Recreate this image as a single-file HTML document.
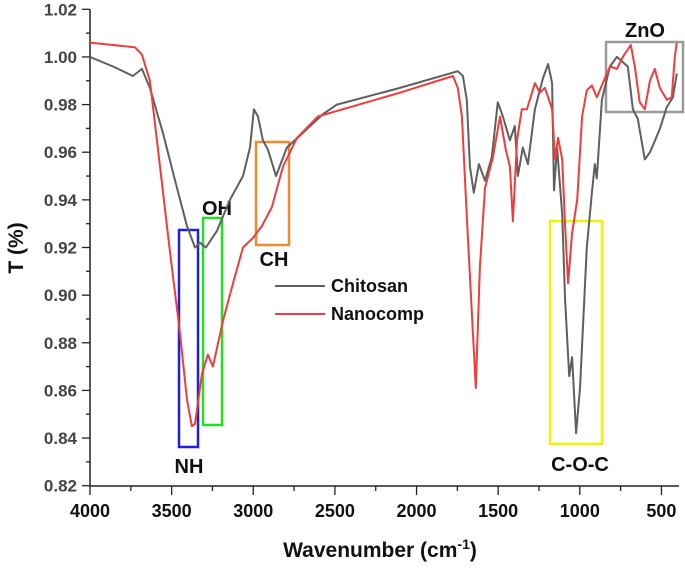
<!DOCTYPE html>
<html><head><meta charset="utf-8"><style>
body{margin:0;background:#fff;}
svg text{font-family:"Liberation Sans",Arial,sans-serif;}
</style></head><body>
<svg id="chart" width="685" height="570" xmlns="http://www.w3.org/2000/svg">
<g id="axes"></g>
<g id="boxes"></g>
<g id="series"></g>
<g id="legend"></g>
</svg>
<script>
const xTicks=[4000,3500,3000,2500,2000,1500,1000,500];
const yTicks=[0.82,0.84,0.86,0.88,0.90,0.92,0.94,0.96,0.98,1.00,1.02];
const chitosanW=[4000,3859,3737,3682,3633,3553,3467,3406,3357,3327,3290,3222,3143,3063,3020,2996,2971,2941,2910,2861,2794,2714,2573,2488,2102,1747,1716,1692,1673,1649,1618,1581,1539,1502,1471,1428,1398,1379,1349,1318,1275,1226,1194,1170,1158,1139,1108,1090,1065,1047,1023,999,957,926,908,896,865,816,773,706,675,645,602,570,539,509,467,430,406];
const chitosanT=[1.000,0.996,0.992,0.995,0.987,0.968,0.945,0.929,0.920,0.922,0.920,0.927,0.940,0.950,0.962,0.978,0.975,0.965,0.961,0.950,0.962,0.967,0.976,0.980,0.987,0.994,0.992,0.982,0.954,0.943,0.955,0.948,0.958,0.981,0.975,0.965,0.971,0.950,0.962,0.955,0.978,0.991,0.997,0.989,0.944,0.962,0.934,0.898,0.866,0.874,0.842,0.861,0.920,0.943,0.955,0.949,0.982,0.996,1.000,0.996,0.978,0.974,0.957,0.960,0.965,0.970,0.979,0.983,0.993];
const nanoW=[4000,3859,3724,3682,3633,3571,3510,3449,3406,3376,3357,3314,3278,3247,3186,3124,3063,3002,2947,2886,2818,2733,2604,2102,1777,1747,1722,1692,1637,1612,1581,1532,1489,1453,1428,1410,1385,1355,1324,1275,1245,1214,1170,1152,1133,1108,1090,1072,1047,1016,986,957,926,896,859,816,773,737,688,663,633,602,571,541,510,467,437,418,406];
const nanoT=[1.006,1.005,1.004,1.001,0.990,0.954,0.918,0.884,0.856,0.845,0.846,0.867,0.875,0.870,0.889,0.905,0.920,0.924,0.929,0.937,0.954,0.966,0.975,0.985,0.992,0.987,0.975,0.933,0.861,0.912,0.945,0.958,0.975,0.961,0.954,0.931,0.965,0.978,0.978,0.989,0.985,0.987,0.978,0.957,0.966,0.957,0.929,0.905,0.926,0.940,0.975,0.986,0.988,0.983,0.989,0.996,0.995,1.000,1.005,0.996,0.981,0.978,0.990,0.995,0.987,0.982,0.983,1.000,1.006];
const NS="http://www.w3.org/2000/svg";
const X=w=>90+(4000-w)*0.16327;
const Y=v=>9.3+(1.02-v)*2382;
function mk(parent,tag,attrs,text){const e=document.createElementNS(NS,tag);for(const k in attrs)e.setAttribute(k,attrs[k]);if(text!==undefined)e.textContent=text;document.getElementById(parent).appendChild(e);return e;}
let e=mk('axes','line',{x1:90,y1:Y(1.02),x2:90,y2:486,stroke:'#222','stroke-width':1.5});

e=mk('axes','line',{x1:90,y1:486,x2:679,y2:486,stroke:'#222','stroke-width':1.5});

for(let v=0.82;v<=1.0201;v+=0.01){const y=Y(v);const major=Math.round(v*100)%2===0;
 e=mk('axes','line',{x1:major?82:86,y1:y,x2:90,y2:y,stroke:'#222','stroke-width':1.3});
 }
yTicks.forEach(v=>{e=mk('axes','text',{x:77,y:Y(v)+6,'text-anchor':'end','font-size':17,'font-weight':'bold',fill:'#444'},v.toFixed(2));
 });
for(let w=4000;w>=400;w-=250){const x=X(w);const major=w%500===0;
 e=mk('axes','line',{x1:x,y1:486,x2:x,y2:major?495:491,stroke:'#222','stroke-width':1.3});
 }
xTicks.forEach(w=>{e=mk('axes','text',{x:X(w),y:517,'text-anchor':'middle','font-size':18,'font-weight':'bold',fill:'#111'},w);
 });
e=mk('axes','text',{x:380,y:557,'text-anchor':'middle','font-size':21,'font-weight':'bold',fill:'#111'});
e.innerHTML='Wavenumber (cm<tspan dy="-8" font-size="14">-1</tspan><tspan dy="8">)</tspan>';

e=mk('axes','text',{x:0,y:0,'text-anchor':'middle','font-size':21,'font-weight':'bold',fill:'#111',transform:'translate(23,248) rotate(-90)'},'T (%)');

function line(ws,ts,color,name){const d=ws.map((w,i)=>(i?'L':'M')+X(w).toFixed(1)+','+Y(ts[i]).toFixed(1)).join('');
 const p=mk('series','path',{d:d,fill:'none',stroke:color,'stroke-width':2,'stroke-linejoin':'round'});
 }
line(chitosanW,chitosanT,'#5f5f5f','chitosan-line');
line(nanoW,nanoT,'#f03c3c','nanocomp-line');
const boxes=[['nh-box',179,230,19,217,'#1f1fe0'],['oh-box',203,218,19,207,'#22e022'],['ch-box',256,142,33,103,'#ef8a2e'],['coc-box',550,221,52,223,'#f2f200'],['zno-box',606,42,77,70,'#9a9a9a']];
boxes.forEach(b=>{e=mk('boxes','rect',{x:b[1],y:b[2],width:b[3],height:b[4],fill:'none',stroke:b[5],'stroke-width':2.5});
 });
const labels=[['nh-label','NH',189,473],['oh-label','OH',217,215],['ch-label','CH',274,266],['coc-label','C-O-C',580,471],['zno-label','ZnO',645,37]];
labels.forEach(l=>{e=mk('boxes','text',{x:l[2],y:l[3],'text-anchor':'middle','font-size':20,'font-weight':'bold',fill:'#111'},l[1]);
 });
e=mk('legend','line',{x1:275,y1:286,x2:325,y2:286,stroke:'#5f5f5f','stroke-width':2});

e=mk('legend','text',{x:331,y:292,'font-size':18,'font-weight':'bold',fill:'#111'},'Chitosan');

e=mk('legend','line',{x1:275,y1:314,x2:325,y2:314,stroke:'#f03c3c','stroke-width':2});

e=mk('legend','text',{x:331,y:320,'font-size':18,'font-weight':'bold',fill:'#111'},'Nanocomp');

</script>
</body></html>
